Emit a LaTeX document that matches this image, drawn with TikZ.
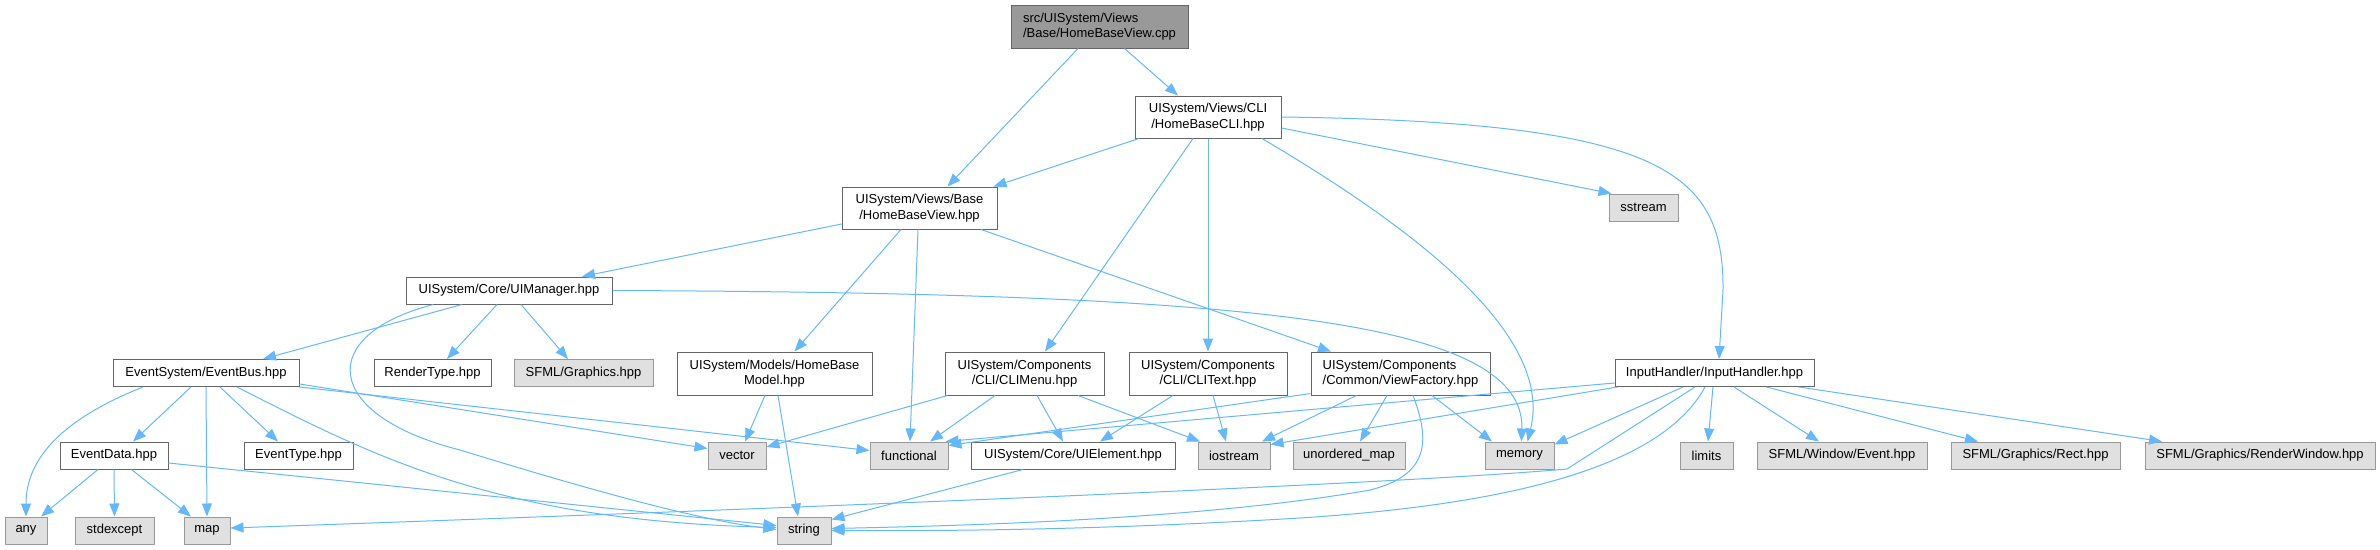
\documentclass[tikz,border=0pt]{standalone}
\usepackage{fontspec}
\setmainfont{Liberation Sans}
\usetikzlibrary{arrows.meta}
\definecolor{edgeblue}{HTML}{63B8FF}
\definecolor{boxline}{HTML}{666666}
\definecolor{extline}{HTML}{999999}
\definecolor{extfill}{HTML}{E0E0E0}
\definecolor{rootfill}{HTML}{999999}

\begin{document}
\begin{tikzpicture}[x=1pt,y=-1pt,
  filebox/.style={draw=boxline, line width=1pt, fill=white, inner sep=0pt,
    minimum height=27pt, align=center, font=\fontsize{13}{15.5}\selectfont},
  extbox/.style={filebox, draw=extline, fill=extfill},
  rootbox/.style={filebox, fill=rootfill},
  incl/.style={edgeblue, line width=1pt, -{Triangle[length=13pt,width=10pt]}}]
\useasboundingbox (0,0) rectangle (2380,549);
\node[rootbox, align=left, minimum width=177pt, minimum height=43pt] (root) at (1099.5,26.5) {src/UISystem/Views\\/Base/HomeBaseView.cpp};
\node[filebox, minimum width=146pt, minimum height=42pt] (cli) at (1208,117) {UISystem/Views/CLI\\/HomeBaseCLI.hpp};
\node[filebox, minimum width=155pt, minimum height=42pt] (hbv) at (919.5,208) {UISystem/Views/Base\\/HomeBaseView.hpp};
\node[extbox, minimum width=69pt] (sstream) at (1643.5,207.5) {sstream};
\node[filebox, minimum width=206pt] (uimgr) at (509,290.5) {UISystem/Core/UIManager.hpp};
\node[filebox, minimum width=186pt] (evbus) at (206,373) {EventSystem/EventBus.hpp};
\node[filebox, minimum width=117pt] (rtype) at (432.5,373) {RenderType.hpp};
\node[extbox, minimum width=139pt] (sfgfx) at (583.5,373) {SFML/Graphics.hpp};
\node[filebox, minimum width=195pt, minimum height=43pt] (model) at (774.5,373.5) {UISystem/Models/HomeBase\\Model.hpp};
\node[filebox, minimum width=159pt, minimum height=43pt] (climenu) at (1024.5,373.5) {UISystem/Components\\/CLI/CLIMenu.hpp};
\node[filebox, minimum width=158pt, minimum height=43pt] (clitext) at (1208,373.5) {UISystem/Components\\/CLI/CLIText.hpp};
\node[filebox, align=left, minimum width=179pt, minimum height=43pt] (vfactory) at (1400.5,373.5) {UISystem/Components\\/Common/ViewFactory.hpp};
\node[filebox, minimum width=199pt] (input) at (1714.5,373) {InputHandler/InputHandler.hpp};
\node[filebox, minimum width=108pt] (evdata) at (114,455.5) {EventData.hpp};
\node[filebox, minimum width=109pt] (evtype) at (298.5,455.5) {EventType.hpp};
\node[extbox, minimum width=58pt] (vector) at (737,455.5) {vector};
\node[extbox, minimum width=78pt] (functional) at (909,455.5) {functional};
\node[filebox, minimum width=204pt] (uielem) at (1073,455.5) {UISystem/Core/UIElement.hpp};
\node[extbox, minimum width=72pt] (iostream) at (1234,455.5) {iostream};
\node[extbox, minimum width=112pt] (umap) at (1349,455.5) {unordered\_map};
\node[extbox, minimum width=69pt] (memory) at (1519.5,455.5) {memory};
\node[extbox, minimum width=53pt] (limits) at (1706.5,455.5) {limits};
\node[extbox, minimum width=170pt] (winevent) at (1842,455.5) {SFML/Window/Event.hpp};
\node[extbox, minimum width=169pt] (rect) at (2035.5,455.5) {SFML/Graphics/Rect.hpp};
\node[extbox, minimum width=230pt] (renderwin) at (2260,455.5) {SFML/Graphics/RenderWindow.hpp};
\node[extbox, minimum width=42pt] (any) at (26,530.5) {any};
\node[extbox, minimum width=79pt] (stdexcept) at (114.5,530.5) {stdexcept};
\node[extbox, minimum width=46pt] (map) at (207,530.5) {map};
\node[extbox, minimum width=54pt] (string) at (804,530.5) {string};
\draw[incl] ([xshift=-21.5pt]root.south) -- ([xshift=28pt]hbv.north);
\draw[incl] ([xshift=25pt]root.south) -- ([xshift=-30pt]cli.north);
\draw[incl] ([xshift=-69pt]cli.south) -- ([xshift=74pt]hbv.north);
\draw[incl] ([xshift=-15pt]cli.south) -- ([xshift=20.5pt]climenu.north);
\draw[incl] (cli.south) -- (clitext.north);
\draw[incl] ([xshift=54pt]cli.south) .. controls (1400,220) and (1555,330) .. ([xshift=8pt]memory.north);
\draw[incl] ([yshift=-11pt]cli.east) -- ([xshift=3pt]sstream.north west);
\draw[incl] (cli.east) .. controls (1660,122) and (1724,170) .. (1723,290) -- ([xshift=4.5pt]input.north);
\draw[incl] ([yshift=-16pt]hbv.west) -- ([xshift=73pt]uimgr.north);
\draw[incl] ([xshift=-18.5pt]hbv.south) -- ([xshift=20pt]model.north);
\draw[incl] ([xshift=-1.5pt]hbv.south) -- ([xshift=1pt]functional.north);
\draw[incl] ([xshift=61.5pt]hbv.south) -- ([xshift=-69.5pt]vfactory.north);
\draw[incl] ([xshift=-47pt]uimgr.south) -- ([xshift=57pt]evbus.north);
\draw[incl] ([xshift=-12pt]uimgr.south) -- ([xshift=14.5pt]rtype.north);
\draw[incl] ([xshift=12pt]uimgr.south) -- ([xshift=-15.5pt]sfgfx.north);
\draw[incl] (uimgr.east) .. controls (1250,293) and (1525,320) .. ([xshift=2pt]memory.north);
\draw[incl] ([xshift=-75.5pt]uimgr.south) .. controls (315,335) and (322,415) .. (460,450) .. controls (600,493) and (700,520) .. ([yshift=1pt]string.west);
\draw[incl] ([xshift=-63pt]evbus.south) .. controls (60,420) and (26,460) .. (any.north);
\draw[incl] ([xshift=-15pt]evbus.south) -- ([xshift=19pt]evdata.north);
\draw[incl] (evbus.south) -- (map.north);
\draw[incl] ([xshift=14pt]evbus.south) -- ([xshift=-20.5pt]evtype.north);
\draw[incl] ([xshift=31pt]evbus.south) .. controls (380,460) and (500,520) .. ([yshift=3pt]string.west);
\draw[incl] ([yshift=3pt]evbus.south east) -- ([yshift=7pt]vector.west);
\draw[incl] (evbus.south east) -- ([yshift=5pt]functional.west);
\draw[incl] ([xshift=-16pt]evdata.south) -- ([xshift=15pt]any.north);
\draw[incl] (evdata.south) -- (stdexcept.north);
\draw[incl] ([xshift=17.5pt]evdata.south) -- ([xshift=-16pt]map.north);
\draw[incl] ([yshift=-7.5pt]evdata.east) -- ([yshift=5pt]string.west);
\draw[incl] ([xshift=-9.5pt]model.south) -- ([xshift=8pt]vector.north);
\draw[incl] ([xshift=3.5pt]model.south) -- ([xshift=-6pt]string.north);
\draw[incl] ([xshift=3pt]climenu.south west) -- ([yshift=8.5pt]vector.east);
\draw[incl] ([xshift=-29.5pt]climenu.south) -- ([xshift=21pt]functional.north);
\draw[incl] ([xshift=12.5pt]climenu.south) -- ([xshift=-10pt]uielem.north);
\draw[incl] ([xshift=53.5pt]climenu.south) -- ([xshift=-34pt]iostream.north);
\draw[incl] ([xshift=-35pt]clitext.south) -- ([xshift=27pt]uielem.north);
\draw[incl] ([xshift=5pt]clitext.south) -- ([xshift=-8pt]iostream.north);
\draw[incl] ([yshift=2pt]vfactory.south west) -- ([yshift=-4pt]functional.north east);
\draw[incl] ([xshift=-44pt]vfactory.south) -- ([xshift=28pt]iostream.north);
\draw[incl] ([xshift=-13.5pt]vfactory.south) -- ([xshift=11pt]umap.north);
\draw[incl] ([xshift=31.5pt]vfactory.south) -- ([xshift=-27.5pt]memory.north);
\draw[incl] ([xshift=12.5pt]vfactory.south) .. controls (1430,440) and (1430,475) .. (1370,490) .. controls (1200,520) and (950,526) .. ([yshift=2pt]string.east);
\draw[incl] ([xshift=-50pt]uielem.south) -- ([yshift=-3pt]string.north east);
\draw[incl] ([yshift=-10pt]input.west) -- ([xshift=-3pt]functional.north east);
\draw[incl] ([xshift=3pt]input.south west) -- ([yshift=-3pt]iostream.north east);
\draw[incl] ([xshift=-31.5pt]input.south) -- ([yshift=-3pt]memory.north east);
\draw[incl] ([xshift=-19.5pt]input.south) -- (1567,469) .. controls (1400,484) and (800,508) .. ([yshift=2.5pt]map.east);
\draw[incl] ([xshift=-9.5pt]input.south) .. controls (1660,470) and (1500,505) .. (1300,518) .. controls (1100,530) and (950,531) .. (string.east);
\draw[incl] ([xshift=-1.5pt]input.south) -- ([xshift=1.5pt]limits.north);
\draw[incl] ([xshift=19.5pt]input.south) -- ([xshift=-23pt]winevent.north);
\draw[incl] ([xshift=52pt]input.south) -- ([xshift=-57.5pt]rect.north);
\draw[incl] ([xshift=84.5pt]input.south) -- ([xshift=-98pt]renderwin.north);
\end{tikzpicture}
\end{document}
